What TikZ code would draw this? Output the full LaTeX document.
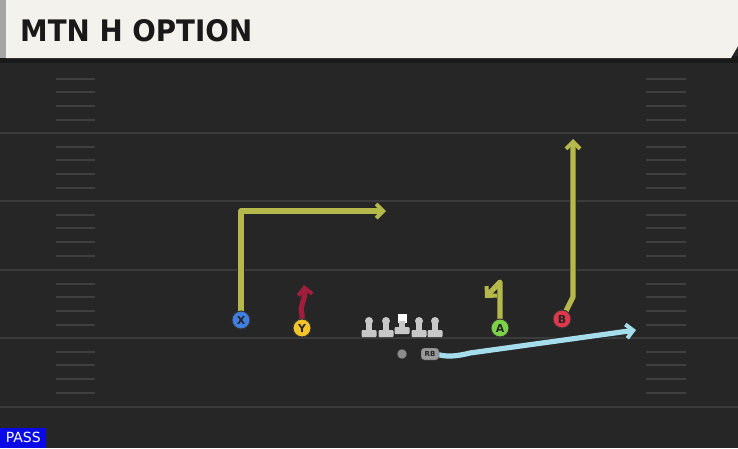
\documentclass[tikz,border=0pt]{standalone}
\usepackage{fontspec}
\setmainfont{DejaVu Sans}
\usetikzlibrary{arrows.meta}
\definecolor{field}{HTML}{262626}
\definecolor{yardline}{HTML}{3B3B3B}
\definecolor{hashline}{HTML}{3F3F3F}
\definecolor{paper}{HTML}{F4F2EC}
\definecolor{olive}{HTML}{B5B84A}
\definecolor{crimson}{HTML}{A01E3C}
\definecolor{skyroute}{HTML}{A6DDEC}
\definecolor{xblue}{HTML}{3F7FE0}
\definecolor{yyellow}{HTML}{F2C42A}
\definecolor{agreen}{HTML}{7CD34A}
\definecolor{bred}{HTML}{E0384A}
\definecolor{oline}{HTML}{C8C8C8}
\definecolor{passblue}{HTML}{0A0AE6}
\pgfdeclarelayer{turf}
\pgfdeclarelayer{routes}
\pgfsetlayers{turf,routes,main}
\tikzset{
  player/.style={circle, draw=black!80, line width=1pt, minimum size=18pt, inner sep=0pt,
    font=\bfseries\fontsize{11}{11}\selectfont, text=black!85},
  route/.style={line width=5.2pt, line join=round, -{Straight Barb[length=7pt,width=14pt,line width=4pt]},
    preaction={draw=black!85, line width=7.2pt, -{Straight Barb[length=7pt,width=14pt,line width=6pt]}}},
  yard/.style={draw=yardline, line width=2pt},
  hash/.style={draw=hashline, line width=1.6pt}
}
\begin{document}
\begin{tikzpicture}[x=1pt, y={(0pt,-1pt)}]
    \useasboundingbox (0,0) rectangle (738,448);
    \begin{pgfonlayer}{turf}
    % Field
    \fill[field] (0,0) rectangle (738,448);

    % Yard lines
    \foreach \y in {133,201,270,338,407}
        \draw[yard] (0,\y) -- (738,\y);

    % Hash marks
    \foreach \y in {65,133,201,270,338} {
        \foreach \d in {14,27,41,55} {
            \draw[hash] (56,\y+\d) -- (95,\y+\d);
            \draw[hash] (646,\y+\d) -- (686,\y+\d);
        }
    }
    \end{pgfonlayer}

    % Header
    \fill[black!90] (0,56) rectangle (738,63);
    \fill[paper] (6,0) -- (738,0) -- (738,46) -- (731,58) -- (6,58) -- cycle;
    \fill[black!35] (0,0) rectangle (6,58);
    \node[anchor=west, inner sep=0pt, text=black!90] (title) at (20,31)
        {\resizebox{232pt}{22pt}{\bfseries MTN H OPTION}};

    % Offensive line
    \foreach \name/\x in {LT/369,LG/386,RG/419,RT/435} {
        \node[circle, fill=oline, minimum size=8pt, inner sep=0pt] (\name) at (\x,321) {};
        \fill[oline] (\x-3,321) rectangle (\x+3,333);
        \fill[oline, rounded corners=1pt] (\x-7.5,330) rectangle (\x+7.5,337);
    }
    \node[fill=white, minimum size=9pt, inner sep=0pt] (C) at (402,318) {};
    \fill[oline] (399,321) rectangle (405,331);
    \fill[oline, rounded corners=1pt] (394.5,327) rectangle (409.5,334);

    % Backfield
    \node[circle, fill=black!45, draw=black!80, minimum size=10pt, inner sep=0pt] (QB) at (402,354) {};
    \node[fill=black!40, draw=black!80, rounded corners=3pt, minimum width=18pt, minimum height=12pt,
        inner sep=0pt, font=\bfseries\fontsize{7}{7}\selectfont, text=black!85] (RB) at (430,354) {RB};

    % Players
    \node[player, fill=xblue] (X) at (241,320) {X};
    \node[player, fill=yyellow] (Y) at (302,328) {Y};
    \node[player, fill=agreen] (A) at (500,328) {A};
    \node[player, fill=bred] (B) at (562,319) {B};

    % Route ends
    \coordinate (xbreak) at (241,211);
    \coordinate (xend) at (386,211);
    \coordinate (yend) at (304,285);
    \coordinate (abreak) at (500,282);
    \coordinate (aend) at (485,298);
    \coordinate (bbreak) at (573,297);
    \coordinate (bend) at (573,139);
    \coordinate (rbend) at (636,330);

    % Routes
    \begin{pgfonlayer}{routes}
    \draw[route, draw=olive] (X.center) -- (xbreak) -- (xend);
    \draw[route, draw=crimson] (Y.center) -- (302,314) .. controls (299,305) and (306,300) .. (yend);
    \draw[route, draw=olive] (A.center) -- (abreak) -- (aend);
    \draw[route, draw=olive] (B.center) -- (bbreak) -- (bend);
    \draw[route, draw=skyroute] (RB.center) -- (440,355) .. controls (448,357) and (458,356) .. (470,353) -- (rbend);
    \end{pgfonlayer}

    % Play type
    \node[fill=passblue, text=white, anchor=south west, minimum width=46pt, minimum height=20pt,
        inner sep=0pt, font=\fontsize{14}{14}\selectfont] (type) at (0,448) {PASS};
\end{tikzpicture}
\end{document}
